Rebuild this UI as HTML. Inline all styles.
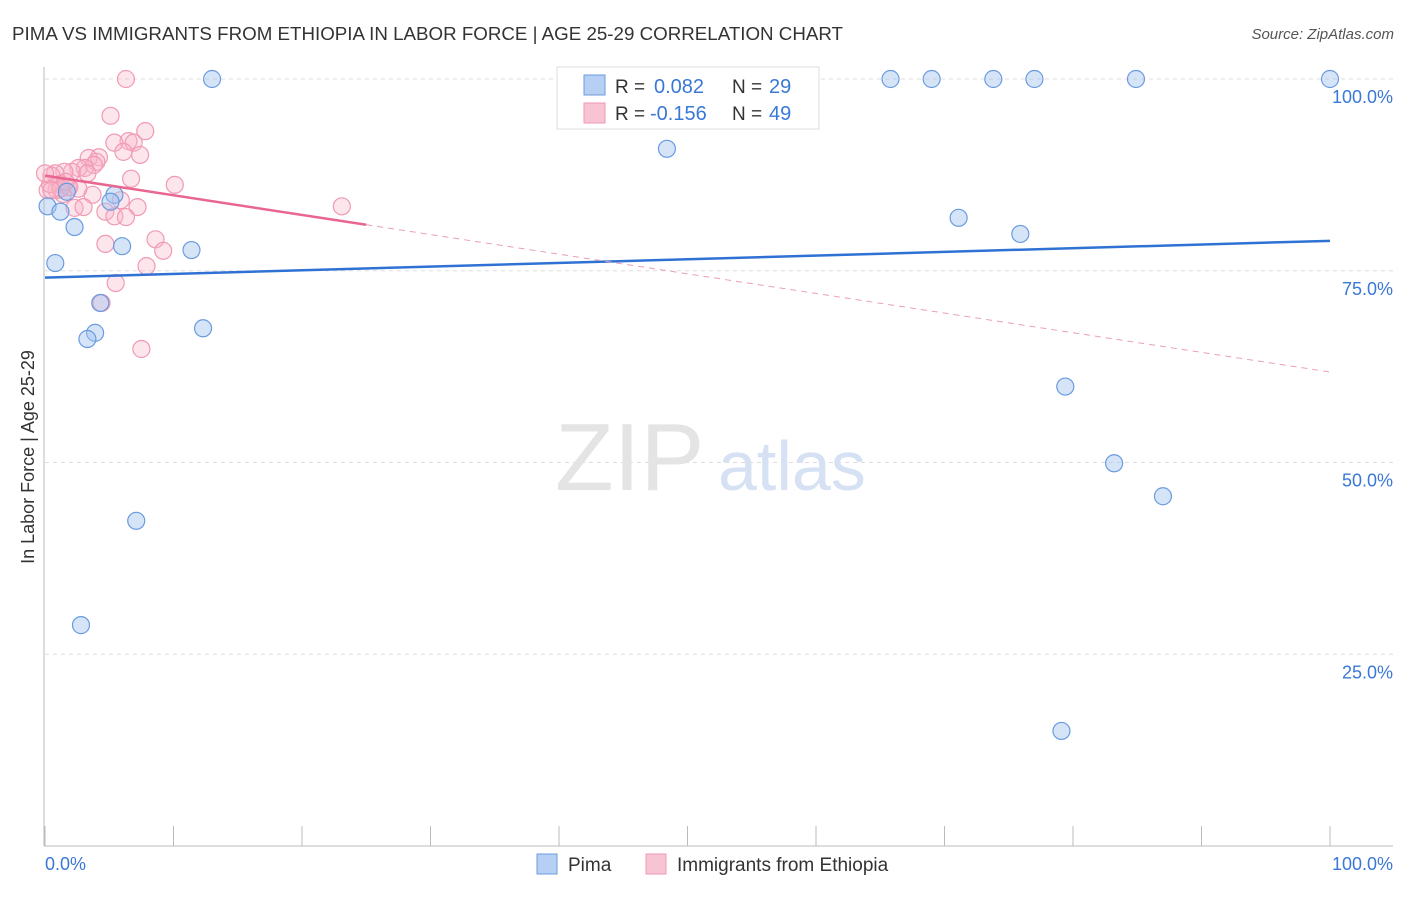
<!DOCTYPE html>
<html><head><meta charset="utf-8"><style>
body{margin:0;background:#fff;font-family:"Liberation Sans",sans-serif}
svg text{font-family:"Liberation Sans",sans-serif}
</style></head><body>
<svg width="1406" height="892" xmlns="http://www.w3.org/2000/svg">
<text x="12" y="40" font-size="18" fill="#333" textLength="831" lengthAdjust="spacingAndGlyphs">PIMA VS IMMIGRANTS FROM ETHIOPIA IN LABOR FORCE | AGE 25-29 CORRELATION CHART</text>
<text x="1394" y="39" font-size="15" fill="#555" text-anchor="end" font-style="italic">Source: ZipAtlas.com</text>
<g id="grid"></g>
<text x="555" y="490" font-size="96" fill="#e4e4e4" font-family="Liberation Serif">ZIP</text>
<text x="718" y="490" font-size="70" fill="#d6e2f4">atlas</text>
<text transform="translate(34,457) rotate(-90)" font-size="18" fill="#333" text-anchor="middle">In Labor Force | Age 25-29</text>
<g id="marks"></g>
<g>
<rect x="557" y="67" width="262" height="62" fill="#fff" stroke="#ddd"/>
<rect x="584" y="75" width="21" height="20" fill="#b7cff2" stroke="#6d9be0"/>
<rect x="584" y="103" width="21" height="20" fill="#f8c3d3" stroke="#ee9ab3"/>
<text x="615" y="93" font-size="19" fill="#333">R =</text>
<text x="654" y="93" font-size="20" fill="#3a78d6">0.082</text>
<text x="732" y="93" font-size="19" fill="#333">N =</text>
<text x="769" y="93" font-size="20" fill="#3a78d6">29</text>
<text x="615" y="120" font-size="19" fill="#333">R =</text>
<text x="650" y="120" font-size="20" fill="#3a78d6">-0.156</text>
<text x="732" y="120" font-size="19" fill="#333">N =</text>
<text x="769" y="120" font-size="20" fill="#3a78d6">49</text>
</g>
<g>
<rect x="537" y="854" width="20" height="20" fill="#b7cff2" stroke="#6d9be0"/>
<text x="568" y="871" font-size="19" fill="#333">Pima</text>
<rect x="646" y="854" width="20" height="20" fill="#f8c3d3" stroke="#ee9ab3"/>
<text x="677" y="871" font-size="19" fill="#333">Immigrants from Ethiopia</text>
</g>
</svg>
<script>
const yTicks=[100,75,50,25];
const yTickLabels=["100.0%","75.0%","50.0%","25.0%"];
const pimaX=[13.0,65.8,69.0,73.8,77.0,84.9,100,48.4,71.1,75.9,79.4,83.2,87.0,79.1,0.2,1.2,0.8,1.7,2.3,5.4,5.1,6.0,11.4,4.3,3.9,3.3,12.3,7.1,2.8];
const pimaY=[100,100,100,100,100,100,100,90.9,81.9,79.8,59.9,49.9,45.6,15.0,83.4,82.7,76.0,85.3,80.7,84.9,84.0,78.2,77.7,70.8,66.9,66.1,67.5,42.4,28.8];
const ethX=[6.3,5.1,7.8,6.5,6.9,5.4,6.1,7.4,4.2,3.4,4.0,3.8,3.1,2.6,2.1,1.5,0.8,0.5,1.2,1.8,0.9,0.2,0.4,10.1,6.7,3.7,1.4,5.9,7.2,23.1,2.3,3.0,4.7,5.4,6.3,8.6,4.7,9.2,7.9,5.5,4.4,7.5,1.9,2.6,3.3,1.2,1.6,0.5,0];
const ethY=[100,95.2,93.2,91.9,91.7,91.7,90.5,90.1,89.8,89.7,89.2,88.8,88.4,88.4,87.9,87.9,87.7,87.4,86.3,85.9,85.5,85.5,86.3,86.2,87.0,84.9,85.0,84.2,83.3,83.4,83.2,83.3,82.7,82.1,82.0,79.1,78.5,77.6,75.6,73.4,70.8,64.8,85.9,85.7,87.7,85.7,86.6,85.5,87.7];
const pimaTrend=[74.1,78.9];
const ethTrend=[87.4,61.8];
const X=v=>45+v*12.85, Y=v=>846-v*7.67;
const NS="http://www.w3.org/2000/svg";
function mk(t,a,p){const e=document.createElementNS(NS,t);for(const k in a)e.setAttribute(k,a[k]);p.appendChild(e);return e;}
const grid=document.getElementById('grid'), marks=document.getElementById('marks');
yTicks.forEach((t,i)=>{
 const l=mk('line',{x1:45,x2:1393,y1:Y(t),y2:Y(t),stroke:'#ddd','stroke-dasharray':'4,4'},grid);
 
 
 const tx=mk('text',{x:1393,y:Y(t)+24,'font-size':18,fill:'#3a78d6','text-anchor':'end'},grid);
 tx.textContent=yTickLabels[i];
 
 
});
const ax=mk('line',{x1:44,x2:44,y1:67,y2:846,stroke:'#bbb'},grid);


const bx=mk('line',{x1:44,x2:1393,y1:846,y2:846,stroke:'#bbb'},grid);


for(let i=0;i<=10;i++){const k=mk('line',{x1:X(i*10),x2:X(i*10),y1:826,y2:846,stroke:'#bbb'},grid);
 
 }
const xl=mk('text',{x:45,y:870,'font-size':18,fill:'#3a78d6'},grid);xl.textContent='0.0%';


const xr=mk('text',{x:1393,y:870,'font-size':18,fill:'#3a78d6','text-anchor':'end'},grid);xr.textContent='100.0%';


ethX.forEach((x,i)=>{const c=mk('circle',{cx:X(x),cy:Y(ethY[i]),r:8.5,fill:'rgba(248,180,200,0.35)',stroke:'#f09ab4','stroke-width':1.2},marks);
 
 });
pimaX.forEach((x,i)=>{const c=mk('circle',{cx:X(x),cy:Y(pimaY[i]),r:8.5,fill:'rgba(164,196,240,0.45)',stroke:'#6a9be0','stroke-width':1.2},marks);
 
 });
const pl=mk('line',{x1:X(0),x2:X(100),y1:Y(pimaTrend[0]),y2:Y(pimaTrend[1]),stroke:'#2f72d4','stroke-width':2.5},marks);


const ey=x=>ethTrend[0]+(ethTrend[1]-ethTrend[0])*x/100;
const el1=mk('line',{x1:X(0),x2:X(25),y1:Y(ey(0)),y2:Y(ey(25)),stroke:'#e8668f','stroke-width':2.5},marks);


const el2=mk('line',{x1:X(25),x2:X(100),y1:Y(ey(25)),y2:Y(ey(100)),stroke:'#e8a0b6','stroke-width':1,'stroke-dasharray':'6,5'},marks);


</script>
</body></html>
